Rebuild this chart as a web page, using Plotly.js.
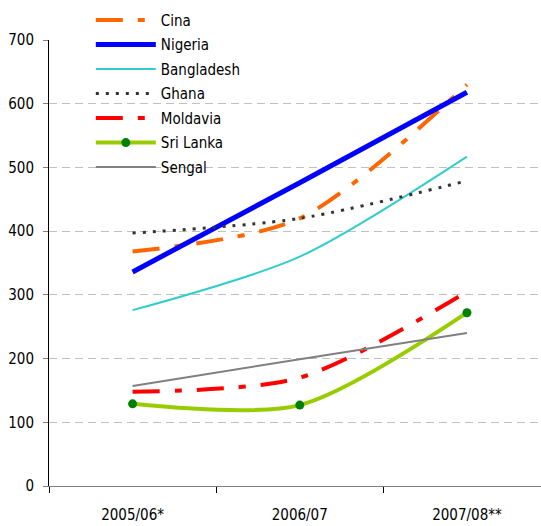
<!DOCTYPE html>
<html><head><meta charset="utf-8">
<script src="https://cdn.plot.ly/plotly-3.0.1.min.js"></script>
<style>html,body{margin:0;padding:0;background:#fff}#chart{width:541px;height:526px}</style>
</head><body><div id="chart"></div>
<script>
const categories = ["2005/06*", "2006/07", "2007/08**"];
const cina = [368, 420, 630];
const nigeria = [336, 476, 618];
const bangladesh = [276, 360, 517];
const ghana = [397, 420, 479];
const moldavia = [148, 170, 305];
const sriLanka = [129, 127, 272];
const sengal = [157, 199, 240];
const yTicks = [0, 100, 200, 300, 400, 500, 600, 700];

const xs = categories.map((c, i) => i);
function tr(name, y, color, width, dash, extra) {
  return Object.assign({
    type: 'scatter', mode: 'lines', name: name, x: xs, y: y,
    line: {color: color, width: width, dash: dash, shape: 'spline', smoothing: 0.8},
    legendgroup: name, hoverinfo: 'skip'
  }, extra || {});
}
const data = [
  tr('Cina', cina, '#FF6600', 4, '27px,15px,7px,15px'),
  tr('Nigeria', nigeria, '#0000FF', 5, 'solid'),
  tr('Bangladesh', bangladesh, '#33CCCC', 2, 'solid'),
  tr('Ghana', ghana, '#333333', 3, '3px,7px'),
  tr('Moldavia', moldavia, '#FF0000', 4, '27px,15px,7px,15px'),
  tr('Sri Lanka', sriLanka, '#99CC00', 4, 'solid', {mode: 'lines+markers', marker: {color: '#008000', size: 9}}),
  tr('Sengal', sengal, '#808080', 2, 'solid')
];
const font = {family: 'DejaVu Sans Condensed, DejaVu Sans, sans-serif', size: 15, color: '#000'};
const layout = {
  width: 541, height: 526,
  margin: {l: 49, r: 0, t: 40, b: 40},
  paper_bgcolor: '#fff', plot_bgcolor: '#fff',
  font: font,
  showlegend: true,
  legend: {x: 0.085, y: 1.081, xanchor: 'left', yanchor: 'top', bgcolor: 'rgba(0,0,0,0)',
           font: font, tracegroupgap: 2, itemwidth: 60},
  xaxis: {
    range: [-0.5, 2.443], tickmode: 'array', tickvals: xs, ticktext: categories,
    ticks: '', showgrid: false, zeroline: false,
    showline: true, linecolor: '#808080', linewidth: 1,
    ticklabelstandoff: 15,
    minor: {tickmode: 'array', tickvals: [-0.5, 0.5, 1.5], ticks: 'outside', ticklen: 6, tickcolor: '#000', tickwidth: 1, showgrid: false},
    fixedrange: true
  },
  yaxis: {
    range: [0, 700], tickmode: 'array', tickvals: yTicks,
    ticks: 'outside', ticklen: 5, tickcolor: '#808080',
    showline: true, linecolor: '#000', linewidth: 1,
    showgrid: true, gridcolor: '#C0C0C0', griddash: '8px,5px', gridwidth: 1,
    zeroline: false, ticklabelstandoff: 6, fixedrange: true
  }
};
Plotly.newPlot('chart', data, layout, {staticPlot: true});
</script>
</body></html>
